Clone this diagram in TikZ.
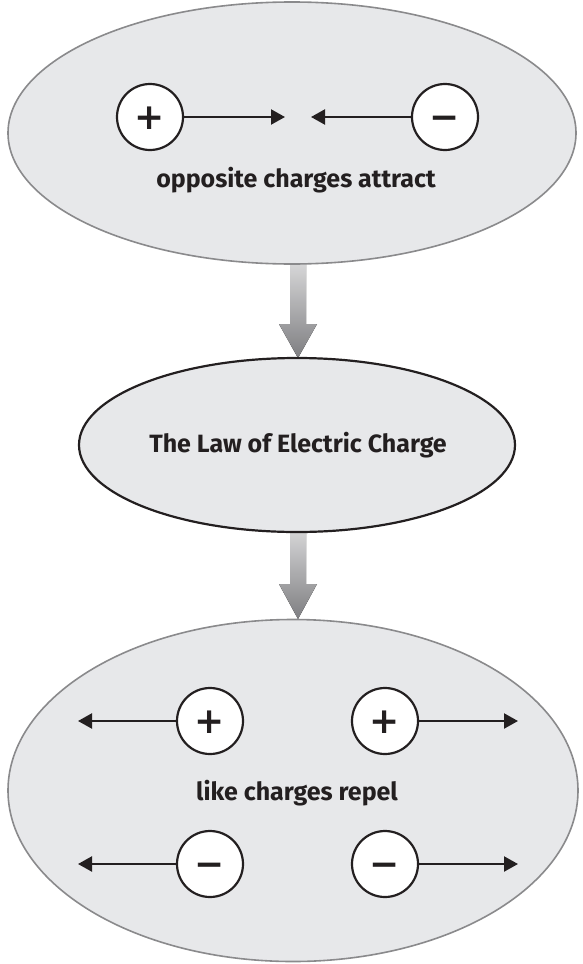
\documentclass[tikz,border=0pt]{standalone}
\usepackage{fontspec}
\setmainfont{Fira Sans}
\newfontfamily\signfont{DejaVu Sans}
\usetikzlibrary{shapes.geometric,arrows.meta}
\definecolor{fillgray}{HTML}{E7E8EA}
\definecolor{edgegray}{HTML}{8A8A8C}
\definecolor{ink}{HTML}{231F20}
\definecolor{arrowtop}{HTML}{D6D6D7}
\definecolor{arrowbot}{HTML}{7E7E81}
\begin{document}
\begin{tikzpicture}[x=1pt,y=-1pt,
  bigell/.style={ellipse, fill=fillgray, draw=edgegray, line width=1.6pt, inner sep=0pt},
  midell/.style={ellipse, fill=fillgray, draw=ink, line width=2.2pt, inner sep=0pt},
  charge/.style={circle, fill=white, draw=ink, line width=2.2pt, minimum size=66pt, inner sep=0pt,
    font=\signfont\bfseries\fontsize{36}{36}\selectfont, text=ink, text height=24.4pt, text depth=0pt},
  force/.style={draw=ink, line width=2.2pt, -{Triangle[length=14pt,width=15pt]}},
  caption/.style={font=\bfseries\fontsize{25}{28}\selectfont, text=ink, anchor=base},
  blockarrow/.style={top color=arrowtop, bottom color=arrowbot, draw=none}]
\useasboundingbox (0,0) rectangle (583,964);
% block arrows (behind the ellipses)
\fill[blockarrow] (290,264) -- (306,264) -- (306,324) -- (317,324) -- (298,358) -- (279,324) -- (290,324) -- cycle;
\fill[blockarrow] (290,530) -- (306,530) -- (306,584) -- (317,584) -- (298,619) -- (279,584) -- (290,584) -- cycle;
% ellipses
\node[bigell, minimum width=568pt, minimum height=262pt] (top) at (292,133) {};
\node[midell, minimum width=436pt, minimum height=174pt] (mid) at (297,445) {};
\node[bigell, minimum width=570pt, minimum height=342pt] (bot) at (293,790.5) {};
% top: opposite charges attract
\node[charge] (p1) at (150,117) {+};
\node[charge] (n1) at (445,117) {−};
\coordinate (t1) at (285,117);
\coordinate (t2) at (311,117);
\draw[force] (p1) -- (t1);
\draw[force] (n1) -- (t2);
\node[caption] (c1) at (296,187) {opposite charges attract};
% middle
\node[caption] (c2) at (298,452) {The Law of Electric Charge};
% bottom: like charges repel
\node[charge] (p2) at (210,721) {+};
\node[charge] (p3) at (385,721) {+};
\node[charge] (n2) at (210,864) {−};
\node[charge] (n3) at (385,864) {−};
\coordinate (t3) at (78,721);
\coordinate (t4) at (518,721);
\coordinate (t5) at (78,864);
\coordinate (t6) at (518,864);
\draw[force] (p2) -- (t3);
\draw[force] (p3) -- (t4);
\draw[force] (n2) -- (t5);
\draw[force] (n3) -- (t6);
\node[caption] (c3) at (297,800) {like charges repel};
\end{tikzpicture}
\end{document}
